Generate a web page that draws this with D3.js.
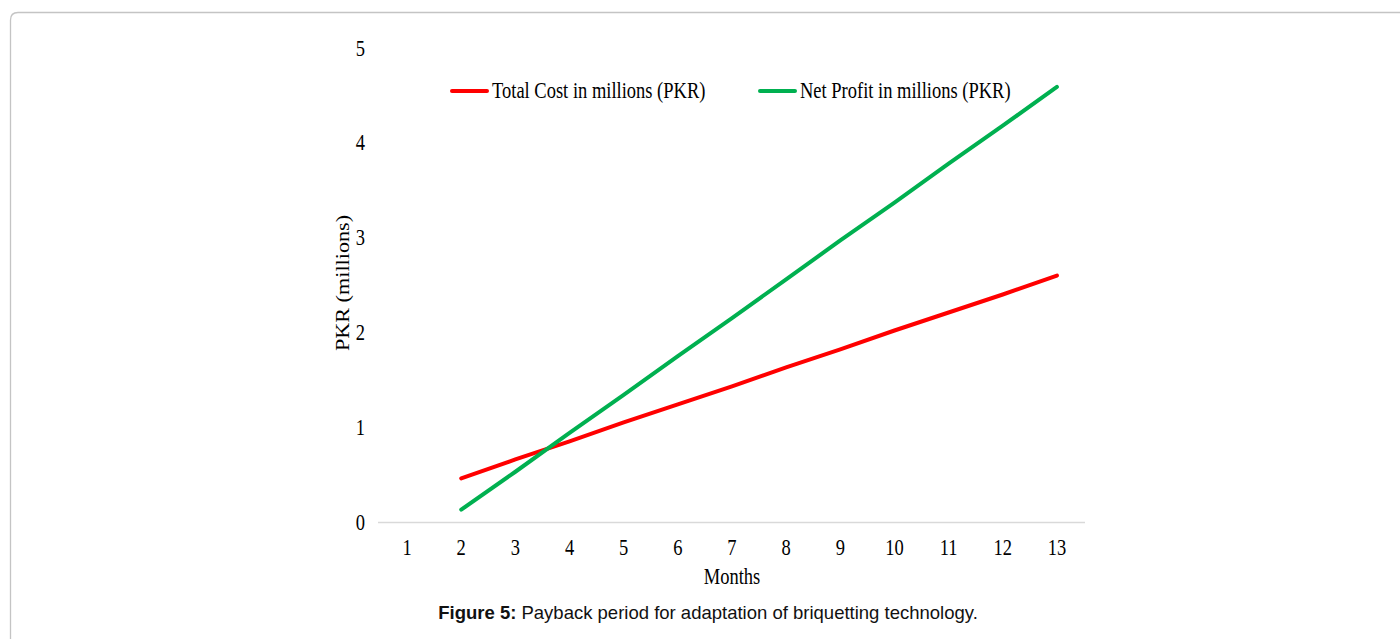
<!DOCTYPE html>
<html>
<head>
<meta charset="utf-8">
<script src="https://cdn.jsdelivr.net/npm/d3@7"></script>
<style>
  body { margin: 0; background: #fff; }
  svg { display: block; }
</style>
</head>
<body>
<svg width="1400" height="639"></svg>
<script>
// chart values
var months = [1, 2, 3, 4, 5, 6, 7, 8, 9, 10, 11, 12, 13];
var costMonths = [2, 3, 4, 5, 6, 7, 8, 9, 10, 11, 12, 13];
var totalCost = [0.46, 0.66, 0.85, 1.05, 1.24, 1.43, 1.63, 1.82, 2.02, 2.21, 2.40, 2.60];
var netProfit = [0.13, 0.53, 0.94, 1.34, 1.75, 2.15, 2.56, 2.97, 3.37, 3.78, 4.18, 4.59];
var yTicks = [0, 1, 2, 3, 4, 5];
var seriesNames = ["Total Cost in millions (PKR)", "Net Profit in millions (PKR)"];
var seriesColors = ["#ff0000", "#00b050"];

var svg = d3.select('svg');
var serif = "'Times New Roman', 'Liberation Serif', serif";
var stretch = 1.2; // the figure text is taller than it is wide
var fs = 18.5;

// card border
svg.append('path')
    .attr('d', 'M10.5,640 L10.5,20 Q10.5,12.5 18,12.5 L1401,12.5')
    .attr('fill', 'none')
    .attr('stroke', '#c4c4c4')
    .attr('stroke-width', 1.3);

var xScale = d3.scaleBand()
    .domain(months)
    .range([380, 1084]);

var yScale = d3.scaleLinear()
    .domain([0, 5])
    .range([522, 48]);

// x axis
var xAxis = d3.axisBottom(xScale).tickSize(0).tickSizeOuter(0);
var gx = svg.append('g')
    .attr('transform', 'translate(0,522)')
    .call(xAxis);
gx.select('.domain').attr('stroke', '#d9d9d9').attr('stroke-width', 1.3)
    .attr('d', 'M378,0.5H1085');
gx.selectAll('text')
    .attr('font-family', serif)
    .attr('font-size', fs)
    .attr('fill', '#000')
    .attr('dy', 0)
    .attr('y', 33 / stretch)
    .attr('transform', 'scale(1,' + stretch + ')');

// y axis
var yAxis = d3.axisLeft(yScale).tickValues(yTicks).tickFormat(d3.format('d'))
    .tickSize(0).tickPadding(15);
var gy = svg.append('g')
    .attr('transform', 'translate(380,0)')
    .call(yAxis);
gy.select('.domain').remove();
gy.selectAll('text')
    .attr('font-family', serif)
    .attr('font-size', fs)
    .attr('fill', '#000')
    .attr('transform', 'scale(1,' + stretch + ')')
    .attr('dy', '0.32em');

// lines
var line = d3.line()
    .x((d, i) => xScale(costMonths[i]) + xScale.bandwidth() / 2)
    .y(d => yScale(d));

[totalCost, netProfit].forEach(function (vals, i) {
    svg.append('path')
        .attr('d', line(vals))
        .attr('fill', 'none')
        .attr('stroke', seriesColors[i])
        .attr('stroke-width', 4)
        .attr('stroke-linecap', 'round');
});

// legend
var legendX = [452, 760];
seriesNames.forEach(function (name, i) {
    svg.append('line')
        .attr('x1', legendX[i]).attr('x2', legendX[i] + 35)
        .attr('y1', 91).attr('y2', 91)
        .attr('stroke', seriesColors[i])
        .attr('stroke-width', 4)
        .attr('stroke-linecap', 'round');
    svg.append('text')
        .attr('transform', 'translate(' + (legendX[i] + 40) + ',98) scale(1,' + stretch + ')')
        .attr('font-family', serif)
        .attr('font-size', fs)
        .text(name);
});

// axis titles
svg.append('text')
    .attr('transform', 'translate(732,584) scale(1,' + stretch + ')')
    .attr('text-anchor', 'middle')
    .attr('font-family', serif)
    .attr('font-size', fs)
    .text('Months');

svg.append('text')
    .attr('transform', 'translate(343,283) rotate(-90) scale(' + stretch + ',1)')
    .attr('text-anchor', 'middle')
    .attr('dy', '0.35em')
    .attr('font-family', serif)
    .attr('font-size', fs)
    .text('PKR (millions)');

// caption
var cap = svg.append('text')
    .attr('x', 708)
    .attr('y', 619)
    .attr('text-anchor', 'middle')
    .attr('font-family', 'Arial, "Liberation Sans", sans-serif')
    .attr('font-size', 18.5)
    .attr('fill', '#111');
cap.append('tspan').attr('font-weight', 'bold').text('Figure 5:');
cap.append('tspan').text(' Payback period for adaptation of briquetting technology.');
</script>
</body>
</html>
